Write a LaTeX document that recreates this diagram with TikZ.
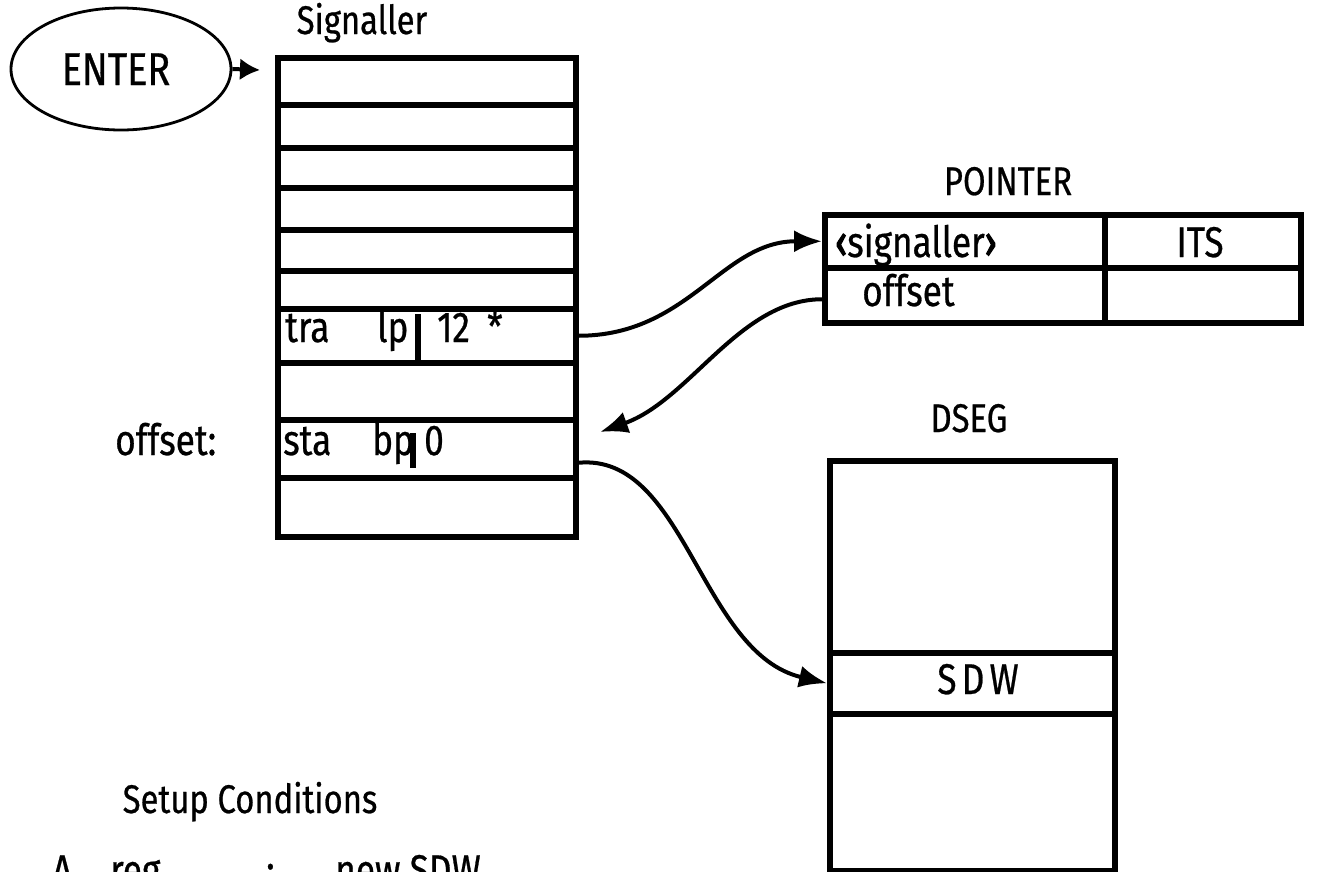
\documentclass[tikz,border=0pt]{standalone}
\usepackage{fontspec}
\setmainfont[FakeStretch=0.82,FakeBold=0.6]{Fira Sans}
\usetikzlibrary{arrows.meta,shapes.geometric}
\begin{document}
\begin{tikzpicture}[x=1pt,y=-1pt,
  txt/.style={inner sep=0pt, anchor=base west, font=\fontsize{43}{50}\selectfont},
  ctxt/.style={inner sep=0pt, anchor=base, font=\fontsize{43}{50}\selectfont},
  lbl/.style={inner sep=0pt, anchor=base, font=\fontsize{40}{46}\selectfont},
  cell/.style={draw, line width=5.5pt, inner sep=0pt, anchor=north west},
  conn/.style={line width=4pt, -{Latex[length=28pt,width=22pt]}},
  bar/.style={line width=5.5pt},
]
\useasboundingbox (0,0) rectangle (1319,871);
\clip (0,0) rectangle (1319,871);

% ENTER
\node[ellipse, draw, line width=2.8pt, minimum width=220, minimum height=122, inner sep=0pt] (enter) at (121,69) {};
\node[ctxt, font=\fontsize{46}{52}\selectfont] (entertxt) at (116,85) {ENTER};
\coordinate (entertip) at (260,70);
\draw[line width=4pt, -{Latex[length=20pt,width=22pt]}] (enter.east) -- (entertip);

% Signaller
\node[lbl] (siglbl) at (362,34) {Signaller};
\node[cell, minimum width=298, minimum height=47] (s1) at (275,55) {};
\node[cell, minimum width=298, minimum height=43] (s2) at (275,102) {};
\node[cell, minimum width=298, minimum height=40] (s3) at (275,145) {};
\node[cell, minimum width=298, minimum height=42] (s4) at (275,185) {};
\node[cell, minimum width=298, minimum height=41] (s5) at (275,227) {};
\node[cell, minimum width=298, minimum height=38] (s6) at (275,268) {};
\node[cell, minimum width=298, minimum height=54] (s7) at (275,306) {};
\node[cell, minimum width=298, minimum height=57] (s8) at (275,360) {};
\node[cell, minimum width=298, minimum height=58] (s9) at (275,417) {};
\node[cell, minimum width=298, minimum height=59] (s10) at (275,475) {};

\node[txt] (tra) at (285,342) {tra};
\node[txt] (lp) at (377,342) {lp};
\coordinate (bar1a) at (418,314);
\coordinate (bar1b) at (418,360);
\draw[bar] (bar1a) -- (bar1b);
\node[txt] (twelve) at (437,342) {12};
\node[txt] (star) at (487,342) {*};

\node[txt] (offlbl) at (115,455) {offset:};
\node[txt] (sta) at (283,455) {sta};
\node[txt] (bp) at (372,455) {bp};
\coordinate (bar2a) at (413,433);
\coordinate (bar2b) at (413,468);
\draw[bar] (bar2a) -- (bar2b);
\node[txt] (zero) at (424,455) {0};

% POINTER
\node[lbl] (ptrlbl) at (1008,195) {POINTER};
\node[cell, minimum width=280, minimum height=53] (p1) at (822,212) {};
\node[cell, minimum width=196, minimum height=53] (p2) at (1102,212) {};
\node[cell, minimum width=280, minimum height=55] (p3) at (822,265) {};
\node[cell, minimum width=196, minimum height=55] (p4) at (1102,265) {};
\node[txt] (sigtxt) at (835,257) {{\addfontfeature{FakeBold=3}‹}signaller{\addfontfeature{FakeBold=3}›}};
\node[ctxt] (its) at (1200,257) {ITS};
\node[txt] (offtxt) at (862,306) {offset};

% DSEG
\node[lbl] (dseglbl) at (969,432) {DSEG};
\node[cell, minimum width=285, minimum height=192] (d1) at (827,458) {};
\node[cell, minimum width=285, minimum height=61] (d2) at (827,650) {};
\node[cell, minimum width=285, minimum height=157] (d3) at (827,711) {};
\node[ctxt, font=\fontsize{43}{50}\selectfont\addfontfeature{LetterSpace=12}] (sdw) at (978,694) {SDW};

% connectors
\coordinate (ret) at (600,432);
\draw[conn] (s7.east) .. controls +(110,0) and +(-100,0) .. (p1.west);
\draw[conn] ([yshift=-4pt]p3.west) .. controls +(-82,0) and +(90,-32) .. (ret);
\draw[conn] ([yshift=-14pt]s9.east) .. controls +(107,-10) and +(-127,-30) .. (d2.west);

% Setup conditions
\node[ctxt, font=\fontsize{40}{46}\selectfont] (setup) at (250,813) {Setup Conditions};
\node[txt] (areg) at (52,885) {A};
\node[txt] (reg) at (110,885) {reg};
\node[txt] (colon) at (266,885) {:};
\node[txt] (newsdw) at (335,885) {new SDW};
\end{tikzpicture}
\end{document}
